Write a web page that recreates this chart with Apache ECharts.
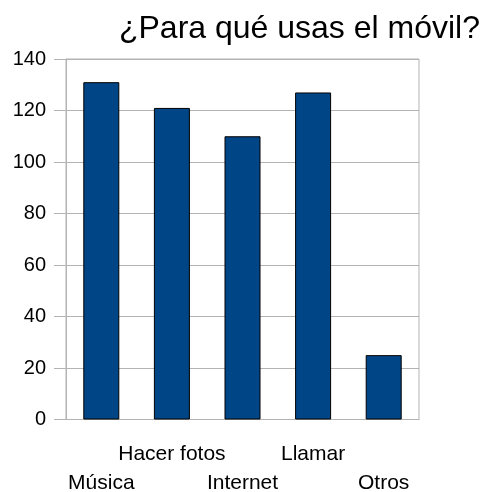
<!DOCTYPE html>
<html>
<head>
<meta charset="utf-8">
<script src="https://cdn.jsdelivr.net/npm/echarts@6/dist/echarts.min.js"></script>
<style>
  html, body { margin: 0; padding: 0; background: #fff; }
  #main { width: 486px; height: 492px; }
</style>
</head>
<body>
<div id="main"></div>
<script>
// datos
const categorias = ["Música", "Hacer fotos", "Internet", "Llamar", "Otros"];
const valores = [131, 121, 110, 127, 25];
const titulo = "¿Para qué usas el móvil?";

const chart = echarts.init(document.getElementById("main"));

const options = {
  backgroundColor: "#fff",
  animation: false,
  title: {
    text: titulo,
    right: 1,
    top: 8,
    textStyle: {
      fontFamily: "Liberation Sans",
      fontSize: 32,
      fontWeight: "normal",
      color: "#000",
    },
  },
  grid: {
    left: 66,
    right: 67,
    top: 59,
    bottom: 72.5,
    outerBoundsMode: "none",
    containLabel: false,
    show: true,
    borderColor: "#b3b3b3",
    borderWidth: 1,
  },
  xAxis: {
    type: "category",
    data: categorias,
    axisLine: { lineStyle: { color: "#b3b3b3" } },
    axisTick: { length: 11, lineStyle: { color: "#b3b3b3" } },
    axisLabel: {
      interval: 0,
      margin: 20,
      color: "#000",
      fontFamily: "Liberation Sans",
      fontSize: 21,
      lineHeight: 29,
      // etiquetas escalonadas
      formatter: (v, i) => (i % 2 === 0 ? "\n" + v : v),
    },
  },
  yAxis: {
    type: "value",
    min: 0,
    max: 140,
    interval: 20,
    axisLine: { show: true, lineStyle: { color: "#b3b3b3" } },
    axisTick: { show: true, length: 12, lineStyle: { color: "#b3b3b3" } },
    splitLine: { lineStyle: { color: "#b3b3b3" } },
    axisLabel: {
      margin: 20,
      color: "#000",
      fontFamily: "Liberation Sans",
      fontSize: 20,
    },
  },
  series: [
    {
      type: "bar",
      data: valores,
      barWidth: 36,
      itemStyle: {
        color: "#004586",
        borderColor: "#000",
        borderWidth: 1,
      },
    },
  ],
};

chart.setOption(options);
</script>
</body>
</html>
